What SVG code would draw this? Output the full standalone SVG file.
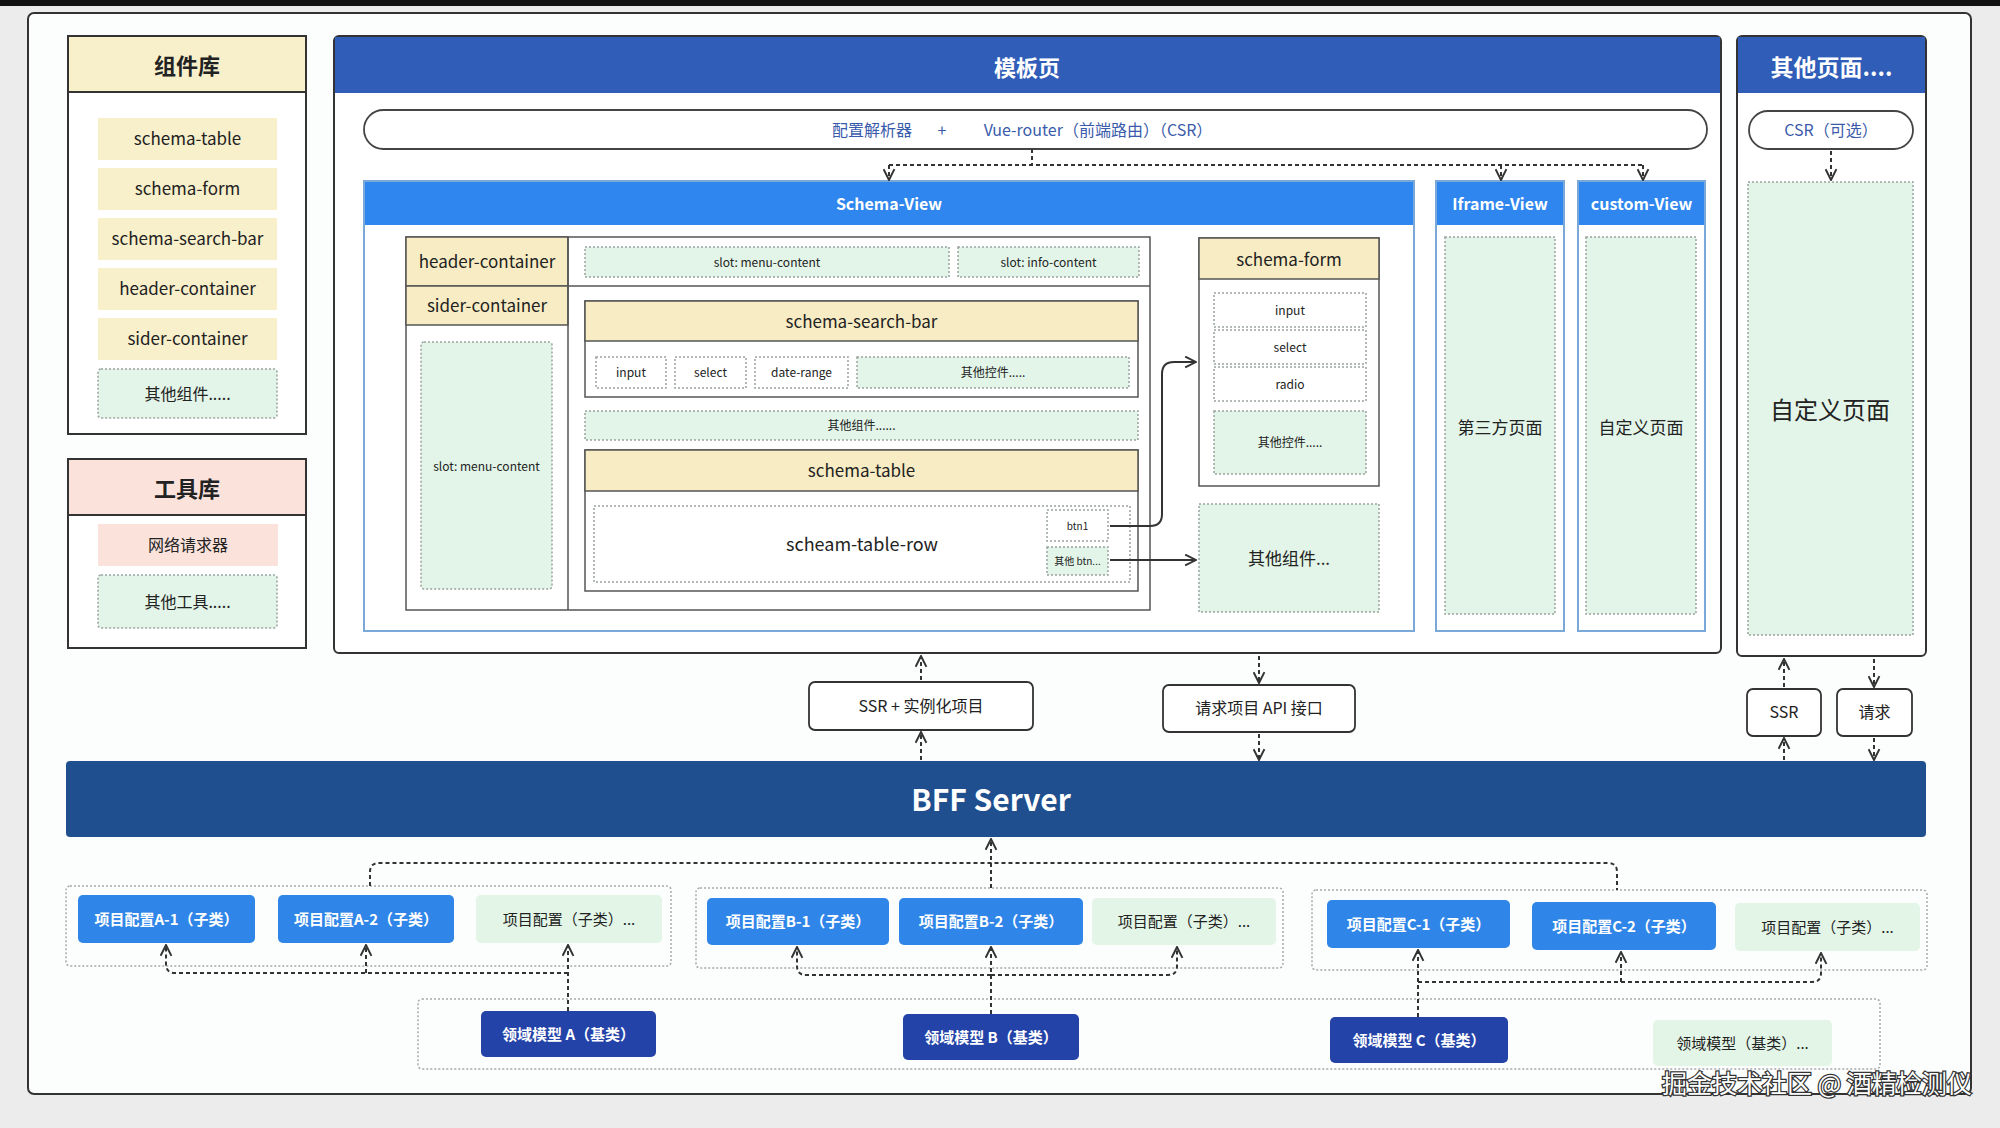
<svg xmlns="http://www.w3.org/2000/svg" width="2000" height="1128" viewBox="0 0 2000 1128">
<defs>
<style>
text{font-family:"Noto Sans CJK SC","Noto Sans",sans-serif;text-anchor:middle;fill:#222}
.b{font-weight:700}
.w{fill:#fff}
.blue{fill:#3a5bab}
.frame{fill:#fff;stroke:#333;stroke-width:2}
.cell{fill:#fff;stroke:#555;stroke-width:1.5}
.yel{fill:#f8efcb}
.yelh{fill:#f7ecc3;stroke:#555;stroke-width:1.5}
.pink{fill:#fbe3dc}
.dg{fill:#e3f5e8;stroke:#9aa39f;stroke-width:1.5;stroke-dasharray:2 2}
.dw{fill:#fff;stroke:#9aa39f;stroke-width:1.5;stroke-dasharray:2 2}
.grp{fill:none;stroke:#a6aaad;stroke-width:1.5;stroke-dasharray:2 2}
.cfg{fill:#2f86e8}
.cfgg{fill:#e2f5e6}
.dom{fill:#2443a8}
.view{fill:#fff;stroke:#7aa8d8;stroke-width:2}
.viewh{fill:#2f86ee}
.pill{fill:#fff;stroke:#444;stroke-width:1.8}
.mid{fill:#fff;stroke:#333;stroke-width:1.8}
.dash{fill:none;stroke:#333;stroke-width:2;stroke-dasharray:4 3}
.solid{fill:none;stroke:#333;stroke-width:2}
.wm{fill:#fff;stroke:#333;stroke-width:2.5;paint-order:stroke;text-anchor:start}
</style>
<marker id="ah" viewBox="0 0 12 12" refX="11" refY="6" markerWidth="13" markerHeight="13" markerUnits="userSpaceOnUse" orient="auto">
<path d="M1,1 L11,6 L1,11" fill="none" stroke="#333" stroke-width="1.8"/>
</marker>
</defs>

<rect x="0" y="0" width="2000" height="1128" fill="#ececec"/>
<rect x="0" y="0" width="2000" height="6" fill="#111"/>
<rect x="28" y="13" width="1943" height="1081" rx="6" fill="#fcfdfd" stroke="#333" stroke-width="2"/>

<g id="lib-components">
<rect x="68" y="36" width="238" height="398" class="frame"/>
<rect x="69" y="37" width="236" height="55" class="yel"/>
<line x1="68" y1="92" x2="306" y2="92" stroke="#333" stroke-width="2"/>
<text x="187" y="74" font-size="22" font-weight="600">组件库</text>
<rect x="98" y="118" width="179" height="42" class="yel"/>
<text x="187.5" y="145" font-size="17">schema-table</text>
<rect x="98" y="168" width="179" height="42" class="yel"/>
<text x="187.5" y="195" font-size="17">schema-form</text>
<rect x="98" y="218" width="179" height="42" class="yel"/>
<text x="187.5" y="245" font-size="17">schema-search-bar</text>
<rect x="98" y="268" width="179" height="42" class="yel"/>
<text x="187.5" y="295" font-size="17">header-container</text>
<rect x="98" y="318" width="179" height="42" class="yel"/>
<text x="187.5" y="345" font-size="17">sider-container</text>
<rect x="98" y="369" width="179" height="49" rx="3" class="dg"/>
<text x="187.5" y="400" font-size="16">其他组件.....</text>
</g>

<g id="lib-tools">
<rect x="68" y="459" width="238" height="189" class="frame"/>
<rect x="69" y="460" width="236" height="55" class="pink"/>
<line x1="68" y1="515" x2="306" y2="515" stroke="#333" stroke-width="2"/>
<text x="187" y="497" font-size="22" font-weight="600">工具库</text>
<rect x="98" y="524" width="180" height="42" class="pink"/>
<text x="188" y="551" font-size="16">网络请求器</text>
<rect x="98" y="575" width="179" height="53" rx="3" class="dg"/>
<text x="187.5" y="608" font-size="16">其他工具.....</text>
</g>

<g id="template-page">
<rect x="334" y="36" width="1387" height="617" rx="5" class="frame"/>
<rect x="335" y="37" width="1385" height="56" fill="#2f5db8"/>
<text x="1027" y="76" font-size="22" class="b w">模板页</text>
</g>

<g id="router">
<rect x="364" y="110" width="1343" height="39" rx="19.5" class="pill"/>
<text x="872" y="136" font-size="16" class="blue">配置解析器</text>
<text x="942" y="136" font-size="16" class="blue">+</text>
<text x="1098" y="136" font-size="16" class="blue">Vue-router（前端路由）（CSR）</text>
</g>

<g id="schema-view">
<rect x="364" y="181" width="1050" height="450" class="view"/>
<rect x="365" y="182" width="1048" height="43" class="viewh"/>
<text x="889" y="210" font-size="16" class="b w">Schema-View</text>
</g>

<g id="layout">
<rect x="406" y="237" width="744" height="373" class="cell"/>
<rect x="406" y="237" width="162" height="49" class="yelh"/>
<rect x="406" y="286" width="162" height="39" class="yelh"/>
<line x1="568" y1="237" x2="568" y2="610" stroke="#555" stroke-width="1.5"/>
<line x1="568" y1="286" x2="1150" y2="286" stroke="#555" stroke-width="1.5"/>
<text x="487" y="268" font-size="17">header-container</text>
<text x="487" y="312" font-size="17">sider-container</text>
<rect x="421" y="342" width="131" height="247" rx="3" class="dg"/>
<text x="486.5" y="471" font-size="12">slot: menu-content</text>
<rect x="585" y="247" width="364" height="30" class="dg"/>
<text x="767" y="267" font-size="12">slot: menu-content</text>
<rect x="958" y="247" width="181" height="30" class="dg"/>
<text x="1048.5" y="267" font-size="12">slot: info-content</text>
</g>

<g id="schema-search-bar">
<rect x="585" y="301" width="553" height="96" class="cell"/>
<rect x="585" y="301" width="553" height="40" class="yelh"/>
<text x="861.5" y="328" font-size="17">schema-search-bar</text>
<rect x="596" y="357" width="70" height="31" class="dw"/>
<text x="631" y="377" font-size="12">input</text>
<rect x="675" y="357" width="71" height="31" class="dw"/>
<text x="710.5" y="377" font-size="12">select</text>
<rect x="755" y="357" width="93" height="31" class="dw"/>
<text x="801.5" y="377" font-size="12">date-range</text>
<rect x="857" y="357" width="272" height="31" class="dg"/>
<text x="993" y="377" font-size="12">其他控件.....</text>
</g>

<g id="other-components-mid">
<rect x="585" y="411" width="553" height="29" class="dg"/>
<text x="861.5" y="430" font-size="12">其他组件......</text>
</g>

<g id="schema-table">
<rect x="585" y="450" width="553" height="141" class="cell"/>
<rect x="585" y="450" width="553" height="41" class="yelh"/>
<text x="861.5" y="477" font-size="17">schema-table</text>
<rect x="594" y="506" width="536" height="76" class="dw"/>
<text x="862" y="551" font-size="18">scheam-table-row</text>
<rect x="1047" y="510" width="61" height="31" class="dw"/>
<text x="1077.5" y="530" font-size="10">btn1</text>
<rect x="1047" y="547" width="61" height="28" class="dg"/>
<text x="1077.5" y="565" font-size="10">其他 btn...</text>
</g>

<g id="schema-form">
<rect x="1199" y="238" width="180" height="248" class="cell"/>
<rect x="1199" y="238" width="180" height="41" class="yelh"/>
<text x="1289" y="266" font-size="17">schema-form</text>
<rect x="1214" y="293" width="152" height="34" class="dw"/>
<text x="1290" y="315" font-size="12">input</text>
<rect x="1214" y="330" width="152" height="34" class="dw"/>
<text x="1290" y="352" font-size="12">select</text>
<rect x="1214" y="367" width="152" height="34" class="dw"/>
<text x="1290" y="389" font-size="12">radio</text>
<rect x="1214" y="411" width="152" height="63" class="dg"/>
<text x="1290" y="447" font-size="12">其他控件.....</text>
</g>

<g id="other-components-right">
<rect x="1199" y="504" width="180" height="108" class="dg"/>
<text x="1289" y="565" font-size="17">其他组件...</text>
</g>

<g id="iframe-view">
<rect x="1436" y="181" width="128" height="450" class="view"/>
<rect x="1437" y="182" width="126" height="43" class="viewh"/>
<text x="1500" y="210" font-size="16" class="b w">Iframe-View</text>
<rect x="1445" y="237" width="110" height="377" class="dg"/>
<text x="1500" y="434" font-size="17">第三方页面</text>
</g>

<g id="custom-view">
<rect x="1578" y="181" width="127" height="450" class="view"/>
<rect x="1579" y="182" width="125" height="43" class="viewh"/>
<text x="1641.5" y="210" font-size="16" class="b w">custom-View</text>
<rect x="1586" y="237" width="110" height="377" class="dg"/>
<text x="1641" y="434" font-size="17">自定义页面</text>
</g>

<g id="other-pages">
<rect x="1737" y="36" width="189" height="620" rx="5" class="frame"/>
<rect x="1738" y="37" width="187" height="56" fill="#2f5db8"/>
<text x="1831.5" y="76" font-size="23" class="b w">其他页面....</text>
<rect x="1749" y="111" width="164" height="38" rx="19" class="pill"/>
<text x="1831" y="136" font-size="16" class="blue">CSR（可选）</text>
<rect x="1748" y="182" width="165" height="453" class="dg"/>
<text x="1830" y="419" font-size="24">自定义页面</text>
</g>

<g id="ssr-instance">
<rect x="809" y="682" width="224" height="48" rx="6" class="mid"/>
<text x="921" y="712" font-size="16">SSR + 实例化项目</text>
</g>
<g id="api-request">
<rect x="1163" y="685" width="192" height="47" rx="6" class="mid"/>
<text x="1259" y="714" font-size="16">请求项目 API 接口</text>
</g>
<g id="ssr">
<rect x="1747" y="689" width="74" height="47" rx="6" class="mid"/>
<text x="1784" y="718" font-size="16">SSR</text>
</g>
<g id="request">
<rect x="1837" y="689" width="75" height="47" rx="6" class="mid"/>
<text x="1874.5" y="718" font-size="16">请求</text>
</g>

<g id="bff">
<rect x="66" y="761" width="1860" height="76" rx="4" fill="#1f4f8e"/>
<text x="991" y="811" font-size="30" class="b w">BFF Server</text>
</g>

<g id="group-a">
<rect x="66" y="886" width="605" height="80" rx="4" class="grp"/>
<rect x="78" y="895" width="177" height="48" rx="5" class="cfg"/>
<text x="166.5" y="925" font-size="15" class="b w">项目配置A-1（子类）</text>
<rect x="278" y="895" width="176" height="48" rx="5" class="cfg"/>
<text x="366" y="925" font-size="15" class="b w">项目配置A-2（子类）</text>
<rect x="476" y="895" width="186" height="48" rx="5" class="cfgg"/>
<text x="569" y="925" font-size="15">项目配置（子类）...</text>
</g>
<g id="group-b">
<rect x="696" y="888" width="587" height="80" rx="4" class="grp"/>
<rect x="707" y="898" width="182" height="47" rx="5" class="cfg"/>
<text x="798" y="927" font-size="15" class="b w">项目配置B-1（子类）</text>
<rect x="899" y="898" width="184" height="47" rx="5" class="cfg"/>
<text x="991" y="927" font-size="15" class="b w">项目配置B-2（子类）</text>
<rect x="1092" y="898" width="184" height="47" rx="5" class="cfgg"/>
<text x="1184" y="927" font-size="15">项目配置（子类）...</text>
</g>
<g id="group-c">
<rect x="1312" y="890" width="615" height="80" rx="4" class="grp"/>
<rect x="1327" y="900" width="183" height="48" rx="5" class="cfg"/>
<text x="1418.5" y="930" font-size="15" class="b w">项目配置C-1（子类）</text>
<rect x="1532" y="902" width="184" height="48" rx="5" class="cfg"/>
<text x="1624" y="932" font-size="15" class="b w">项目配置C-2（子类）</text>
<rect x="1735" y="903" width="185" height="48" rx="5" class="cfgg"/>
<text x="1827.5" y="933" font-size="15">项目配置（子类）...</text>
</g>

<g id="domain-models">
<rect x="418" y="999" width="1462" height="70" rx="4" class="grp"/>
<rect x="481" y="1011" width="175" height="46" rx="5" class="dom"/>
<text x="568.5" y="1040" font-size="15" class="b w">领域模型 A（基类）</text>
<rect x="903" y="1014" width="176" height="46" rx="5" class="dom"/>
<text x="991" y="1043" font-size="15" class="b w">领域模型 B（基类）</text>
<rect x="1330" y="1017" width="178" height="46" rx="5" class="dom"/>
<text x="1419" y="1046" font-size="15" class="b w">领域模型 C（基类）</text>
<rect x="1653" y="1020" width="179" height="46" rx="5" class="cfgg"/>
<text x="1742.5" y="1049" font-size="15">领域模型（基类）...</text>
</g>

<g id="connectors">
<path class="dash" d="M1032,149 V165"/>
<path class="dash" d="M889,165 H1643"/>
<path class="dash" d="M889,165 V180" marker-end="url(#ah)"/>
<path class="dash" d="M1501,165 V180" marker-end="url(#ah)"/>
<path class="dash" d="M1643,165 V180" marker-end="url(#ah)"/>
<path class="dash" d="M1831,151 V180" marker-end="url(#ah)"/>
<path class="solid" d="M1110,526 H1150 Q1162,526 1162,514 V374 Q1162,362 1174,362 H1196" marker-end="url(#ah)"/>
<path class="solid" d="M1110,560 H1196" marker-end="url(#ah)"/>
<path class="dash" d="M921,680 V656" marker-end="url(#ah)"/>
<path class="dash" d="M921,760 V732" marker-end="url(#ah)"/>
<path class="dash" d="M1259,656 V683" marker-end="url(#ah)"/>
<path class="dash" d="M1259,734 V760" marker-end="url(#ah)"/>
<path class="dash" d="M1784,687 V659" marker-end="url(#ah)"/>
<path class="dash" d="M1784,760 V738" marker-end="url(#ah)"/>
<path class="dash" d="M1874,659 V687" marker-end="url(#ah)"/>
<path class="dash" d="M1874,738 V760" marker-end="url(#ah)"/>
<path class="dash" d="M370,886 V872 Q370,863 379,863 H1608 Q1617,863 1617,872 V890"/>
<path class="dash" d="M991,888 V839" marker-end="url(#ah)"/>
<path class="dash" d="M568,1011 V945" marker-end="url(#ah)"/>
<path class="dash" d="M568,973 H175 Q166,973 166,964 V945" marker-end="url(#ah)"/>
<path class="dash" d="M366,973 V945" marker-end="url(#ah)"/>
<path class="dash" d="M991,1014 V947" marker-end="url(#ah)"/>
<path class="dash" d="M991,975 H806 Q797,975 797,966 V947" marker-end="url(#ah)"/>
<path class="dash" d="M991,975 H1168 Q1177,975 1177,966 V947" marker-end="url(#ah)"/>
<path class="dash" d="M1418,1017 V950" marker-end="url(#ah)"/>
<path class="dash" d="M1418,982 H1812 Q1821,982 1821,973 V953" marker-end="url(#ah)"/>
<path class="dash" d="M1621,982 V952" marker-end="url(#ah)"/>
</g>

<text x="1662" y="1093" font-size="25" class="wm">掘金技术社区 @ 酒精检测仪</text>
</svg>
